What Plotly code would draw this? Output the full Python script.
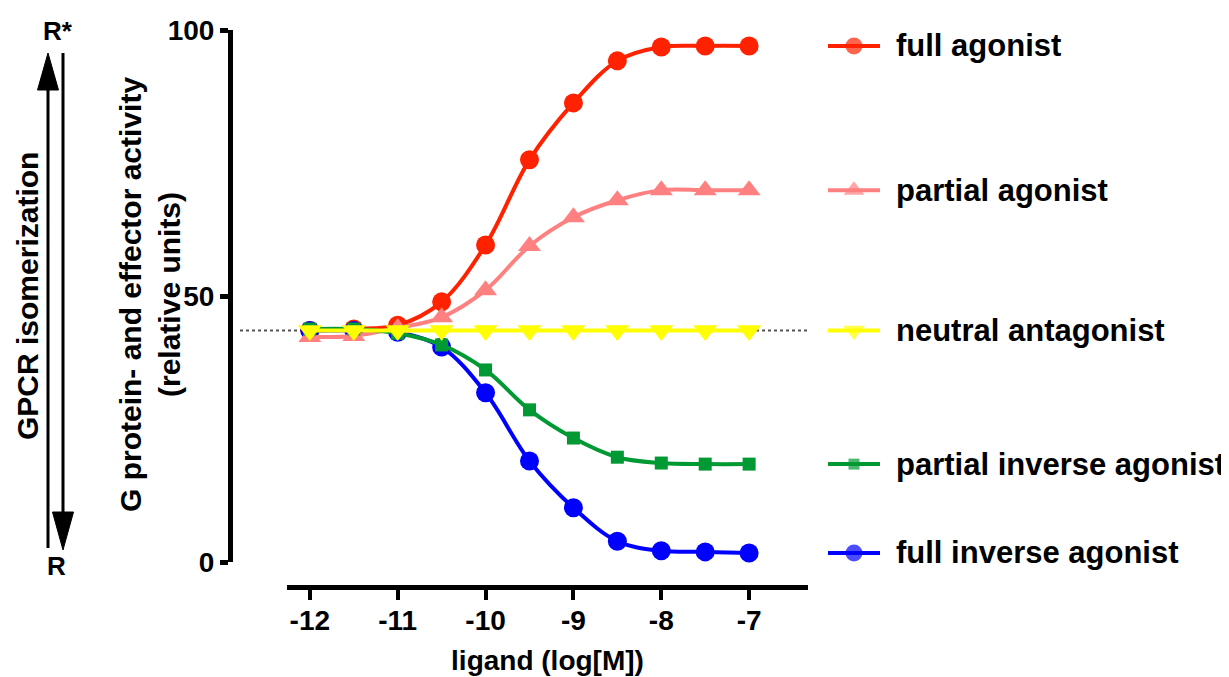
import plotly.graph_objects as go

# ---------------- data ----------------
log_conc = [-12, -11.5, -11, -10.5, -10, -9.5, -9, -8.5, -8, -7.5, -7]
full_agonist = [43.5, 43.8, 44.5, 48.9, 59.6, 75.6, 86.3, 94.2, 96.8, 97.0, 97.0]
partial_agonist = [42.3, 42.5, 44.0, 46.0, 51.1, 59.4, 64.8, 68.0, 69.9, 69.9, 69.9]
neutral_antagonist = [43.5, 43.5, 43.5, 43.5, 43.5, 43.5, 43.5, 43.5, 43.5, 43.5, 43.5]
partial_inverse_agonist = [43.8, 43.8, 43.0, 40.8, 36.1, 28.6, 23.3, 19.7, 18.6, 18.4, 18.4]
full_inverse_agonist = [43.5, 43.5, 43.2, 40.4, 31.8, 19.0, 10.2, 3.9, 2.1, 1.9, 1.7]
basal_level = 43.5

x_ticks = [-12, -11, -10, -9, -8, -7]
y_ticks = [0, 50, 100]

series_names = ["full agonist", "full inverse agonist", "partial agonist",
                "partial inverse agonist", "neutral antagonist"]
series_values = [full_agonist, full_inverse_agonist, partial_agonist,
                 partial_inverse_agonist, neutral_antagonist]
series_colors = ["#FF2200", "#0000FF", "#FF8080", "#009933", "#FFFF00"]
series_symbols = ["circle", "circle", "triangle-up", "square", "triangle-down"]
series_sizes = [19, 19, 20, 13, 21]

W, H = 1229, 677
OX, OY = 8, 8  # page body offset


def px(x):
    return (x - OX) / W


def py(y):
    return 1 - (y - OY) / H


FONT = "Liberation Sans"

fig = go.Figure()

for name, vals, col, sym, sz in zip(series_names, series_values, series_colors,
                                    series_symbols, series_sizes):
    fig.add_trace(go.Scatter(
        x=log_conc, y=vals, mode="lines+markers", name=name,
        line=dict(color=col, width=4, shape="spline", smoothing=1.0),
        marker=dict(color=col, symbol=sym, size=sz, line=dict(width=0)),
        showlegend=False, cliponaxis=False,
    ))
    # legend sample drawn at the end level of each curve
    fig.add_trace(go.Scatter(
        x=[0, 1, 2], y=[vals[-1]] * 3, mode="lines+markers",
        xaxis="x2", yaxis="y",
        line=dict(color=col, width=4),
        marker=dict(color=col, symbol=sym, size=[0, sz - 2, 0], line=dict(width=0)),
        showlegend=False, cliponaxis=False,
    ))

annotations = []
for name, vals in zip(series_names, series_values):
    annotations.append(dict(
        x=px(894), y=vals[-1], xref="paper", yref="y", text=name,
        showarrow=False, xanchor="left", yanchor="middle",
        font=dict(family=FONT, size=31, color="black", weight="bold"),
    ))

annotations += [
    dict(x=px(150), y=py(295), xref="paper", yref="paper",
         text="G protein- and effector activity<br>(relative units)",
         textangle=-90, showarrow=False, xanchor="center", yanchor="middle",
         font=dict(family=FONT, size=30, color="black", weight="bold")),
    dict(x=px(27), y=py(296), xref="paper", yref="paper",
         text="GPCR isomerization", textangle=-90, showarrow=False,
         xanchor="center", yanchor="middle",
         font=dict(family=FONT, size=30, color="black", weight="bold")),
    dict(x=px(58), y=py(31), xref="paper", yref="paper", text="R*",
         showarrow=False, xanchor="center", yanchor="middle",
         font=dict(family=FONT, size=26, color="black", weight="bold")),
    dict(x=px(56), y=py(566), xref="paper", yref="paper", text="R",
         showarrow=False, xanchor="center", yanchor="middle",
         font=dict(family=FONT, size=26, color="black", weight="bold")),
]

shapes = [
    # dotted basal line
    dict(type="line", xref="paper", yref="y", x0=px(240), x1=px(810),
         y0=basal_level, y1=basal_level,
         line=dict(color="#555555", width=2, dash="dot"), layer="below"),
    # up arrow
    dict(type="line", xref="paper", yref="paper", x0=px(48), x1=px(48),
         y0=py(548), y1=py(88), line=dict(color="black", width=3)),
    dict(type="path", xref="paper", yref="paper",
         path=f"M {px(48)} {py(53)} L {px(37.5)} {py(90)} L {px(58.5)} {py(90)} Z",
         fillcolor="black", line=dict(color="black", width=1)),
    # down arrow
    dict(type="line", xref="paper", yref="paper", x0=px(63), x1=px(63),
         y0=py(53), y1=py(515), line=dict(color="black", width=3)),
    dict(type="path", xref="paper", yref="paper",
         path=f"M {px(63)} {py(550)} L {px(52.5)} {py(512)} L {px(73.5)} {py(512)} Z",
         fillcolor="black", line=dict(color="black", width=1)),
]

tickfont = dict(family=FONT, size=28, color="black", weight="bold")

fig.update_layout(
    width=W, height=H,
    margin=dict(l=0, r=0, t=0, b=0, autoexpand=False),
    paper_bgcolor="white", plot_bgcolor="white",
    showlegend=False,
    xaxis=dict(
        domain=[px(287), px(808)], range=[-12.26, -6.33],
        anchor="free", position=py(587), automargin=False,
        tickvals=x_ticks, ticktext=[str(t) for t in x_ticks],
        ticks="outside", ticklen=10, tickwidth=4, tickcolor="black",
        ticklabelstandoff=-4,
        showline=True, linewidth=5, linecolor="black",
        showgrid=False, zeroline=False, tickfont=tickfont,
        title=dict(text="ligand (log[M])", standoff=15,
                   font=dict(family=FONT, size=28, color="black", weight="bold")),
    ),
    xaxis2=dict(domain=[px(828), px(880)], range=[0, 2], anchor="y",
                automargin=False,
                visible=False, showgrid=False, zeroline=False),
    yaxis=dict(
        domain=[py(562), py(30)], range=[0, 100],
        anchor="free", position=px(230), automargin=False,
        tickvals=y_ticks, ticktext=[str(t) for t in y_ticks],
        ticks="outside", ticklen=8, tickwidth=5, tickcolor="black",
        showline=True, linewidth=5, linecolor="black",
        showgrid=False, zeroline=False, tickfont=tickfont,
    ),
    annotations=annotations,
    shapes=shapes,
)

fig.write_html("out.html")
